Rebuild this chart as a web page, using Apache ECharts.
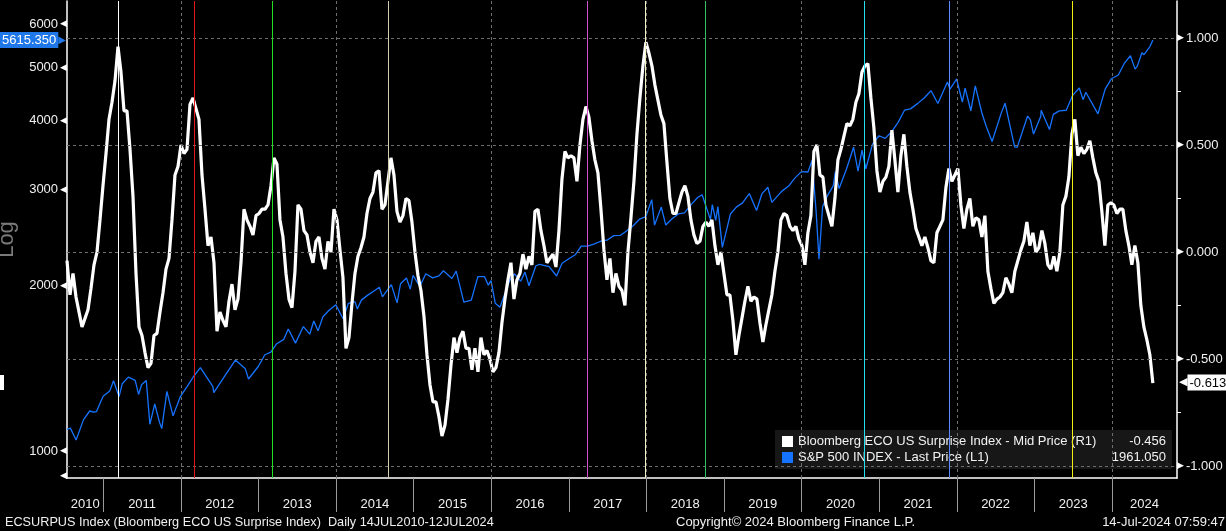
<!DOCTYPE html>
<html>
<head>
<meta charset="utf-8">
<script src="https://cdn.jsdelivr.net/npm/echarts@6/dist/echarts.min.js"></script>
<style>
  html, body { margin: 0; padding: 0; background: #000; }
  #chart { width: 1226px; height: 531px; }
</style>
</head>
<body>
<div id="chart"></div>
<script>
// ---- data ----
// ECO surprise index, one value roughly every two weeks from 14 Jul 2010
const ecoStart = 2010.532;          // decimal year of first point
const ecoStep = 3 / 77.6;           // ~2 weeks, in years
const ecoValues = [
  -0.04,-0.20,-0.10,-0.21,-0.28,-0.35,-0.31,-0.27,-0.17,-0.06,
  0.00,0.15,0.31,0.46,0.62,0.70,0.80,0.96,0.84,0.66,
  0.66,0.48,0.26,-0.10,-0.35,-0.39,-0.47,-0.54,-0.52,-0.39,
  -0.38,-0.28,-0.19,-0.08,-0.03,0.15,0.36,0.40,0.50,0.46,
  0.48,0.69,0.72,0.67,0.62,0.36,0.20,0.03,0.07,-0.05,
  -0.37,-0.28,-0.32,-0.35,-0.23,-0.15,-0.27,-0.22,-0.05,0.20,
  0.15,0.12,0.08,0.17,0.18,0.20,0.20,0.22,0.31,0.44,
  0.41,0.15,0.07,-0.10,-0.22,-0.26,-0.09,0.22,0.20,0.10,
  0.08,0.00,-0.05,0.05,0.07,-0.03,-0.08,0.05,0.00,0.20,
  0.15,0.01,-0.12,-0.45,-0.40,-0.24,-0.10,-0.02,0.02,0.07,
  0.18,0.25,0.28,0.37,0.38,0.20,0.22,0.33,0.44,0.36,
  0.19,0.14,0.17,0.25,0.24,0.14,0.00,-0.11,-0.18,-0.30,
  -0.48,-0.62,-0.70,-0.70,-0.77,-0.86,-0.81,-0.69,-0.53,-0.40,
  -0.47,-0.40,-0.37,-0.45,-0.45,-0.55,-0.45,-0.56,-0.40,-0.48,
  -0.46,-0.50,-0.56,-0.54,-0.47,-0.33,-0.22,-0.13,-0.05,-0.22,
  -0.13,-0.10,-0.01,-0.08,-0.02,-0.06,0.19,0.20,0.10,0.03,
  -0.05,-0.03,-0.01,-0.07,0.10,0.34,0.47,0.44,0.45,0.44,
  0.33,0.50,0.62,0.68,0.63,0.52,0.43,0.37,0.20,0.01,
  -0.13,-0.03,-0.19,-0.10,-0.16,-0.18,-0.25,0.00,0.16,0.33,
  0.55,0.72,0.87,0.98,0.93,0.87,0.78,0.71,0.64,0.60,
  0.42,0.25,0.18,0.18,0.23,0.28,0.31,0.26,0.15,0.08,
  0.04,0.05,0.12,0.14,0.12,0.15,0.03,-0.06,0.00,-0.10,
  -0.20,-0.20,-0.32,-0.48,-0.39,-0.31,-0.23,-0.16,-0.23,-0.21,
  -0.22,-0.33,-0.42,-0.34,-0.27,-0.20,-0.09,0.00,0.15,0.18,
  0.17,0.12,0.10,0.12,0.06,0.03,-0.06,0.09,0.17,0.47,
  0.50,0.36,0.35,0.22,0.17,0.12,0.25,0.43,0.48,0.54,
  0.60,0.59,0.62,0.70,0.74,0.84,0.87,0.88,0.72,0.58,
  0.38,0.28,0.33,0.35,0.40,0.57,0.43,0.28,0.45,0.55,
  0.40,0.28,0.20,0.11,0.07,0.03,0.07,0.02,-0.04,-0.05,
  0.09,0.12,0.15,0.30,0.39,0.33,0.36,0.39,0.22,0.11,
  0.20,0.25,0.12,0.16,0.15,0.07,0.17,-0.09,-0.17,-0.24,
  -0.22,-0.21,-0.19,-0.12,-0.15,-0.19,-0.09,-0.04,0.01,0.05,
  0.14,0.03,0.09,0.00,0.02,0.10,0.04,-0.06,-0.08,-0.02,
  -0.09,0.00,0.22,0.26,0.35,0.55,0.62,0.45,0.49,0.46,
  0.48,0.52,0.44,0.37,0.33,0.19,0.03,0.22,0.23,0.22,
  0.18,0.20,0.20,0.10,0.03,-0.06,0.03,-0.05,-0.25,-0.35,
  -0.41,-0.48,-0.613
];

// S&P 500 level
const spxDates = [
  '2010-07-14','2010-07-30','2010-08-26','2010-08-31','2010-09-30','2010-10-29','2010-11-16','2010-11-30','2010-12-31',
  '2011-01-31','2011-02-18','2011-03-16','2011-03-31','2011-04-29','2011-05-31','2011-06-16','2011-06-30','2011-07-22',
  '2011-08-08','2011-08-31','2011-09-22','2011-10-03','2011-10-27','2011-11-25','2011-12-30',
  '2012-01-31','2012-02-29','2012-04-02','2012-05-31','2012-06-04','2012-07-31','2012-09-14','2012-10-31','2012-11-15','2012-12-31',
  '2013-01-31','2013-02-28','2013-03-28','2013-04-30','2013-05-21','2013-06-24','2013-07-31','2013-08-30','2013-09-18','2013-10-08',
  '2013-10-31','2013-11-29','2013-12-31',
  '2014-02-03','2014-02-28','2014-03-31','2014-04-11','2014-04-30','2014-05-30','2014-06-30','2014-07-24','2014-08-07','2014-09-18',
  '2014-10-15','2014-10-31','2014-11-28','2014-12-16','2014-12-29',
  '2015-01-30','2015-02-27','2015-03-31','2015-04-30','2015-05-21','2015-06-30','2015-07-20','2015-08-25','2015-09-29','2015-10-30',
  '2015-11-30','2015-12-18','2015-12-31',
  '2016-01-20','2016-02-11','2016-03-31','2016-04-20','2016-05-19','2016-06-08','2016-06-27','2016-07-29','2016-08-15','2016-09-30',
  '2016-11-04','2016-11-30','2016-12-30',
  '2017-01-31','2017-02-28','2017-03-31','2017-04-28','2017-05-31','2017-06-30','2017-07-31','2017-08-31','2017-09-29','2017-10-31',
  '2017-11-30','2017-12-29',
  '2018-01-26','2018-02-08','2018-03-12','2018-04-02','2018-04-30','2018-05-31','2018-06-29','2018-07-31','2018-08-31','2018-09-20',
  '2018-10-29','2018-11-07','2018-11-23','2018-12-03','2018-12-24',
  '2019-01-31','2019-02-28','2019-03-29','2019-04-30','2019-06-03','2019-06-28','2019-07-26','2019-08-14','2019-09-30','2019-10-31',
  '2019-11-29','2019-12-31',
  '2020-01-31','2020-02-19','2020-03-09','2020-03-23','2020-04-09','2020-04-30','2020-05-29','2020-06-08','2020-06-26','2020-07-31',
  '2020-09-02','2020-09-23','2020-10-12','2020-10-30','2020-11-30','2020-12-31',
  '2021-01-29','2021-02-26','2021-03-31','2021-04-30','2021-05-28','2021-06-30','2021-07-30','2021-09-02','2021-10-04','2021-11-18',
  '2021-11-30','2021-12-31',
  '2022-01-03','2022-01-27','2022-02-09','2022-03-08','2022-03-29','2022-04-29','2022-05-20','2022-06-16','2022-07-29','2022-08-16',
  '2022-09-30','2022-10-12','2022-11-30','2022-12-13','2022-12-28',
  '2023-01-31','2023-02-02','2023-03-13','2023-03-31','2023-04-28','2023-05-31','2023-06-30','2023-07-31','2023-08-18','2023-08-31',
  '2023-10-27','2023-11-30','2023-12-29',
  '2024-01-31','2024-02-29','2024-03-28','2024-04-19','2024-04-30','2024-05-21','2024-05-31','2024-06-28','2024-07-12'
];
const spxValues = [
  1095,1101,1047,1049,1141,1183,1178,1180,1258,
  1286,1343,1257,1326,1364,1345,1268,1321,1345,
  1119,1219,1129,1099,1285,1159,1258,
  1312,1366,1419,1310,1278,1379,1465,1412,1353,1426,
  1498,1515,1569,1598,1669,1573,1686,1633,1726,1656,
  1757,1806,1848,
  1742,1859,1872,1815,1884,1924,1960,1988,1910,2011,
  1862,2018,2068,1973,2091,
  1995,2105,2068,2086,2131,2063,2128,1868,1884,2079,
  2080,2006,2044,
  1859,1829,2060,2102,2040,2119,2001,2174,2190,2168,
  2085,2199,2239,
  2279,2364,2363,2384,2412,2423,2470,2472,2519,2575,
  2648,2674,
  2873,2581,2784,2582,2648,2705,2718,2816,2902,2931,
  2641,2814,2633,2790,2351,
  2704,2784,2834,2946,2744,2942,3026,2840,2977,3038,
  3141,3231,
  3226,3386,2747,2237,2790,2912,3044,3232,3009,3271,
  3580,3237,3535,3270,3622,3756,
  3714,3811,3973,4181,4204,4298,4395,4537,4300,4705,
  4567,4766,
  4797,4327,4587,4171,4632,4132,3901,3667,4130,4305,
  3586,3577,4080,4019,3783,
  4077,4179,3855,4109,4169,4180,4450,4589,4370,4508,
  4117,4568,4770,
  4846,5096,5254,4967,5036,5321,5278,5460,5615.35
];

const ecoName = 'Bloomberg ECO US Surprise Index - Mid Price (R1)';
const spxName = 'S&P 500 INDEX - Last Price (L1)';
const legendValues = ['-0.456', '1961.050'];
const lastSpx = 5615.35;
const lastEco = -0.613;

// axes
const xMin = 2010.532, xMax = 2024.838;
const yearTicks = [2011,2012,2013,2014,2015,2016,2017,2018,2019,2020,2021,2022,2023,2024];
const yearLabels = [2010,2011,2012,2013,2014,2015,2016,2017,2018,2019,2020,2021,2022,2023,2024];
const gridYears = [2012,2014,2016,2018,2020,2022,2024];
const leftTicks = [900,1000,2000,3000,4000,5000,6000];
const rightTicks = [-1,-0.75,-0.5,-0.25,0,0.25,0.5,0.75,1];
const rightLabels = [-1,-0.5,0,0.5,1];

// coloured event markers
const eventYears = [2011.19,2012.17,2013.18,2014.67,2017.24,2017.98,2018.76,2020.81,2021.90,2023.49];
const eventColors = ['#ffffff','#e01818','#22dd22','#d6cdb0','#d24fd2','#f2f0c8','#2fc066','#22e0f0','#5a8cff','#f2ee14'];

function toYear(s) {
  const d = new Date(s + 'T00:00:00Z');
  const y = d.getUTCFullYear();
  const a = Date.UTC(y, 0, 1), b = Date.UTC(y + 1, 0, 1);
  return y + (d.getTime() - a) / (b - a);
}

const ecoData = ecoValues.map((v, i) => [ecoStart + i * ecoStep, v]);
const spxData = spxValues.map((v, i) => [toYear(spxDates[i]), v]);
const yearLabelPos = yearLabels.map(y => (Math.max(y, xMin) + Math.min(y + 1, xMax)) / 2);

const FONT = 'Liberation Sans, Arial, sans-serif';
const gridDash = { color: '#6e6e6e', type: [3, 3], width: 1 };
const hidden = { color: 'rgba(0,0,0,0)', width: 0 };

const chart = echarts.init(document.getElementById('chart'));
chart.setOption({
  backgroundColor: '#000',
  animation: false,
  textStyle: { fontFamily: FONT },
  grid: { left: 67, right: 49, top: 1, bottom: 53, containLabel: false, outerBoundsMode: 'none' },
  legend: {
    data: [ecoName, spxName],
    orient: 'vertical',
    left: 775, top: 430,
    padding: [5, 6, 5, 7],
    itemGap: 3,
    itemWidth: 11, itemHeight: 11,
    icon: 'rect',
    backgroundColor: 'rgba(24,24,24,0.95)',
    selectedMode: false,
    textStyle: {
      color: '#f2f2f2', fontSize: 13, fontFamily: FONT,
      rich: {
        n: { width: 312, fontSize: 13, color: '#f2f2f2', fontFamily: FONT },
        v: { width: 56, align: 'right', fontSize: 13, color: '#f2f2f2', fontFamily: FONT }
      }
    },
    formatter: name => '{n|' + name + '}{v|' + legendValues[name === ecoName ? 0 : 1] + '}'
  },
  xAxis: {
    type: 'value', min: xMin, max: xMax,
    axisLine: { show: true, onZero: false, lineStyle: { color: '#ffffff', width: 1.5 } },
    axisTick: { show: true, customValues: yearTicks, length: 34, lineStyle: { color: '#9a9a9a', width: 1 } },
    axisLabel: {
      customValues: yearLabelPos, margin: 20, color: '#f0f0f0', fontSize: 13, fontFamily: FONT,
      formatter: v => String(Math.floor(v))
    },
    splitLine: { show: false }
  },
  yAxis: [
    {
      type: 'log', logBase: 10, min: 893, max: 6612, position: 'left',
      name: 'Log', nameLocation: 'middle', nameGap: 29, nameRotate: 90,
      nameTextStyle: { color: '#7a7a7a', fontSize: 22, fontFamily: FONT },
      axisLine: { show: true, onZero: false, lineStyle: { color: '#ffffff', width: 1.5 } },
      axisTick: { show: false },
      axisLabel: {
        customValues: leftTicks, margin: 0, fontFamily: FONT,
        formatter: v => (v < 1000 ? '{a|◀}' : '{t|' + v + '}{a|◀}'),
        rich: {
          t: { color: '#f0f0f0', fontSize: 13, fontFamily: FONT, padding: [0, 2, 0, 0] },
          a: { color: '#ffffff', fontSize: 9, fontFamily: 'DejaVu Sans' }
        }
      },
      splitLine: { show: false }
    },
    {
      type: 'value', min: -1.056, max: 1.173, position: 'right',
      axisLine: { show: true, onZero: false, lineStyle: { color: '#ffffff', width: 1.5 } },
      axisTick: { show: true, customValues: rightTicks, length: 4, lineStyle: { color: '#ffffff' } },
      axisLabel: {
        customValues: rightLabels, margin: 0, fontFamily: FONT,
        formatter: v => '{a|▶}{t|' + v.toFixed(3) + '}',
        rich: {
          t: { color: '#f0f0f0', fontSize: 13, fontFamily: FONT, padding: [0, 0, 0, 2] },
          a: { color: '#ffffff', fontSize: 9, fontFamily: 'DejaVu Sans' }
        }
      },
      splitLine: { show: false }
    }
  ],
  series: [
    {
      // grid lines and event markers, drawn under the data
      type: 'line', name: 'grid', data: [], yAxisIndex: 1, z: 1, silent: true,
      markLine: {
        silent: true, symbol: 'none', animation: false,
        label: { show: false },
        data: [
          ...rightLabels.map(v => ({ yAxis: v, lineStyle: gridDash })),
          ...gridYears.map(y => ({ xAxis: y, lineStyle: gridDash })),
          ...eventYears.map((y, i) => ({ xAxis: y, lineStyle: { color: eventColors[i], type: 'solid', width: 1 } }))
        ]
      }
    },
    {
      type: 'line', name: spxName, data: spxData, yAxisIndex: 0, z: 3, clip: false,
      showSymbol: false, symbol: 'none',
      color: '#1673ff',
      lineStyle: { color: '#1673ff', width: 1.3 },
      markLine: {
        silent: true, symbol: 'none', animation: false,
        lineStyle: hidden,
        label: {
          show: true, position: 'start', distance: 1, color: '#ffffff',
          formatter: () => '{b|' + lastSpx.toFixed(3) + '}{a|▶}',
          rich: {
            b: { backgroundColor: '#1f77e8', color: '#ffffff', fontSize: 13, fontFamily: FONT, padding: [2, 2, 1, 3] },
            a: { color: '#1f77e8', fontSize: 10, fontFamily: 'DejaVu Sans' }
          }
        },
        data: [{ yAxis: lastSpx }]
      }
    },
    {
      type: 'line', name: ecoName, data: ecoData, yAxisIndex: 1, z: 4, clip: false,
      showSymbol: false, symbol: 'none',
      color: '#ffffff',
      lineStyle: { color: '#ffffff', width: 3.2 },
      markLine: {
        silent: true, symbol: 'none', animation: false,
        lineStyle: hidden,
        label: {
          show: true, position: 'end', distance: 2, color: '#000000',
          formatter: () => '{a|◀}{b|' + lastEco.toFixed(3) + '}',
          rich: {
            b: { backgroundColor: '#ffffff', color: '#000000', fontSize: 13, fontFamily: FONT, padding: [2, 3, 1, 2] },
            a: { color: '#ffffff', fontSize: 11, fontFamily: 'DejaVu Sans' }
          }
        },
        data: [{ yAxis: lastEco }]
      }
    }
  ],
  graphic: [
    { type: 'rect', shape: { x: 0, y: 375, width: 4, height: 15 }, style: { fill: '#ffffff' } },
    { type: 'text', style: { x: 5, y: 522, text: 'ECSURPUS Index (Bloomberg ECO US Surprise Index)  Daily 14JUL2010-12JUL2024',
      fill: '#f0f0f0', fontSize: 12.7, fontFamily: FONT, textVerticalAlign: 'middle', verticalAlign: 'middle' } },
    { type: 'text', style: { x: 676, y: 522, text: 'Copyright© 2024 Bloomberg Finance L.P.',
      fill: '#f0f0f0', fontSize: 13, fontFamily: FONT, textVerticalAlign: 'middle', verticalAlign: 'middle' } },
    { type: 'text', style: { x: 1225, y: 522, text: '14-Jul-2024 07:59:47', align: 'right', textAlign: 'right',
      fill: '#f0f0f0', fontSize: 13, fontFamily: FONT, textVerticalAlign: 'middle', verticalAlign: 'middle' } }
  ]
});
</script>
</body>
</html>
